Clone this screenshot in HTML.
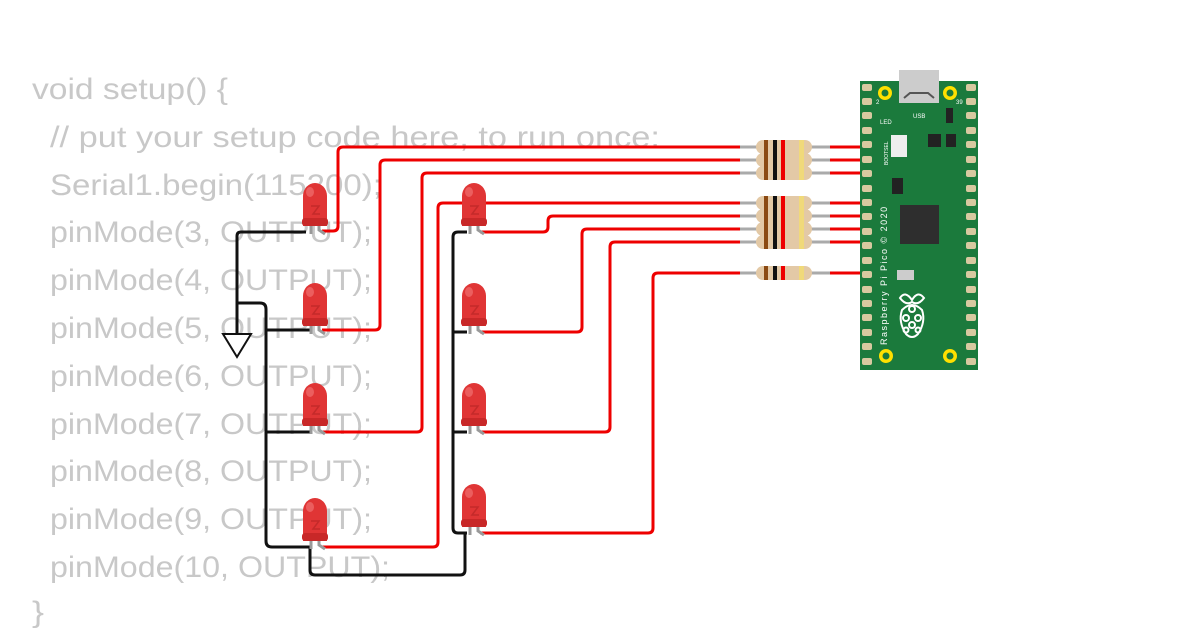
<!DOCTYPE html>
<html><head><meta charset="utf-8"><style>
html,body{margin:0;padding:0;background:#fff;}
svg{display:block;}
</style></head><body>
<svg width="1200" height="630" viewBox="0 0 1200 630" xmlns="http://www.w3.org/2000/svg">
<defs>
<g id="led">
  <line x1="-4" y1="28" x2="-4" y2="38" stroke="#999" stroke-width="3"/>
  <path d="M4 28 L4 34 L10 38" stroke="#999" stroke-width="3" fill="none"/>
  <path d="M-12 30 L-12 0 A12 13 0 0 1 12 0 L12 30 Z" fill="#e03535"/>
  <rect x="-13" y="22" width="26" height="8" rx="3" fill="#c82828"/>
  <path d="M-4 10 L4 10 L-2 18 L5 18" stroke="#c42a2a" stroke-width="1.5" fill="none"/>
  <ellipse cx="-5" cy="-4" rx="4" ry="5" fill="#f07070" opacity="0.7"/>
</g>
<g id="res">
  <line x1="0" y1="0" x2="20" y2="0" stroke="#aaa" stroke-width="3"/>
  <line x1="68" y1="0" x2="90" y2="0" stroke="#aaa" stroke-width="3"/>
  <rect x="16" y="-7" width="56" height="14" rx="7" fill="#e3c9a6"/>
  <rect x="24" y="-7" width="4" height="14" fill="#8b4a12"/>
  <rect x="33" y="-7" width="4" height="14" fill="#111"/>
  <rect x="41" y="-7" width="4" height="14" fill="#e00"/>
  <rect x="59" y="-7" width="5" height="14" fill="#f0d97a"/>
</g>
</defs>

<g font-family="Liberation Sans, sans-serif" font-size="30" fill="#c8c8c8">
<text x="32" y="99" textLength="196" lengthAdjust="spacingAndGlyphs">void setup() {</text>
<text x="50" y="147" textLength="610" lengthAdjust="spacingAndGlyphs">// put your setup code here, to run once:</text>
<text x="50" y="195" textLength="332" lengthAdjust="spacingAndGlyphs">Serial1.begin(115200);</text>
<text x="50" y="242" textLength="322" lengthAdjust="spacingAndGlyphs">pinMode(3, OUTPUT);</text>
<text x="50" y="290" textLength="322" lengthAdjust="spacingAndGlyphs">pinMode(4, OUTPUT);</text>
<text x="50" y="338" textLength="322" lengthAdjust="spacingAndGlyphs">pinMode(5, OUTPUT);</text>
<text x="50" y="386" textLength="322" lengthAdjust="spacingAndGlyphs">pinMode(6, OUTPUT);</text>
<text x="50" y="434" textLength="322" lengthAdjust="spacingAndGlyphs">pinMode(7, OUTPUT);</text>
<text x="50" y="481" textLength="322" lengthAdjust="spacingAndGlyphs">pinMode(8, OUTPUT);</text>
<text x="50" y="529" textLength="322" lengthAdjust="spacingAndGlyphs">pinMode(9, OUTPUT);</text>
<text x="50" y="577" textLength="340" lengthAdjust="spacingAndGlyphs">pinMode(10, OUTPUT);</text>
<text x="32" y="622" textLength="12" lengthAdjust="spacingAndGlyphs">}</text>
</g>

<g stroke="#111" stroke-width="3" fill="none" stroke-linejoin="round">
<path d="M306 232 L241 232 Q237 232 237 236 L237 333"/>
<path d="M237 303 L260 303 Q266 303 266 309 L266 541 Q266 547 272 547 L310 547"/>
<path d="M266 330 L310 330"/>
<path d="M266 432 L310 432"/>
<path d="M310 547 L310 570 Q310 575 315 575 L460 575 Q465 575 465 570 L465 533"/>
<path d="M467 232 L458 232 Q453 232 453 237 L453 528 Q453 533 458 533 L467 533"/>
<path d="M453 332 L467 332"/>
<path d="M453 432 L467 432"/>
</g>
<path d="M223 334 L251 334 L237 357 Z" fill="#fff" stroke="#111" stroke-width="2"/>

<g stroke="#e00" stroke-width="3" fill="none" stroke-linejoin="round">
<path d="M745 147 L343 147 Q338 147 338 152 L338 226 Q338 231 333 231 L322 231"/>
<path d="M745 160 L385 160 Q380 160 380 165 L380 325 Q380 330 375 330 L322 330"/>
<path d="M745 173 L427 173 Q422 173 422 178 L422 427 Q422 432 417 432 L322 432"/>
<path d="M745 203 L443 203 Q438 203 438 208 L438 542 Q438 547 433 547 L322 547"/>
<path d="M745 216 L553 216 Q548 216 548 221 L548 227 Q548 232 543 232 L480 232"/>
<path d="M745 229 L587 229 Q582 229 582 234 L582 327 Q582 332 577 332 L480 332"/>
<path d="M745 242 L615 242 Q610 242 610 247 L610 427 Q610 432 605 432 L480 432"/>
<path d="M745 273 L658 273 Q653 273 653 278 L653 528 Q653 533 648 533 L480 533"/>
<path d="M825 147 L866 147 M825 160 L866 160 M825 173 L866 173 M825 203 L866 203 M825 216 L866 216 M825 229 L866 229 M825 242 L866 242 M825 273 L866 273"/>
</g>

<use href="#led" x="315" y="196"/>
<use href="#led" x="315" y="296"/>
<use href="#led" x="315" y="396"/>
<use href="#led" x="315" y="511"/>
<use href="#led" x="474" y="196"/>
<use href="#led" x="474" y="296"/>
<use href="#led" x="474" y="396"/>
<use href="#led" x="474" y="497"/>

<use href="#res" x="740" y="147"/>
<use href="#res" x="740" y="160"/>
<use href="#res" x="740" y="173"/>
<use href="#res" x="740" y="203"/>
<use href="#res" x="740" y="216"/>
<use href="#res" x="740" y="229"/>
<use href="#res" x="740" y="242"/>
<use href="#res" x="740" y="273"/>

<rect x="860" y="81" width="118" height="289" fill="#1b7a3c"/>
<rect x="899" y="70" width="40" height="33" fill="#ccc"/>
<path d="M904 98 L910 93 L928 93 L934 98" stroke="#555" stroke-width="2" fill="none"/>
<g fill="#d8c9a0">
<rect x="862" y="84" width="10" height="7" rx="2"/><rect x="862" y="98" width="10" height="7" rx="2"/>
<rect x="862" y="112" width="10" height="7" rx="2"/><rect x="862" y="127" width="10" height="7" rx="2"/>
<rect x="862" y="141" width="10" height="7" rx="2"/><rect x="862" y="156" width="10" height="7" rx="2"/>
<rect x="862" y="170" width="10" height="7" rx="2"/><rect x="862" y="185" width="10" height="7" rx="2"/>
<rect x="862" y="199" width="10" height="7" rx="2"/><rect x="862" y="213" width="10" height="7" rx="2"/>
<rect x="862" y="228" width="10" height="7" rx="2"/><rect x="862" y="242" width="10" height="7" rx="2"/>
<rect x="862" y="257" width="10" height="7" rx="2"/><rect x="862" y="271" width="10" height="7" rx="2"/>
<rect x="862" y="286" width="10" height="7" rx="2"/><rect x="862" y="300" width="10" height="7" rx="2"/>
<rect x="862" y="314" width="10" height="7" rx="2"/><rect x="862" y="329" width="10" height="7" rx="2"/>
<rect x="862" y="343" width="10" height="7" rx="2"/><rect x="862" y="358" width="10" height="7" rx="2"/>
<rect x="966" y="84" width="10" height="7" rx="2"/><rect x="966" y="98" width="10" height="7" rx="2"/>
<rect x="966" y="112" width="10" height="7" rx="2"/><rect x="966" y="127" width="10" height="7" rx="2"/>
<rect x="966" y="141" width="10" height="7" rx="2"/><rect x="966" y="156" width="10" height="7" rx="2"/>
<rect x="966" y="170" width="10" height="7" rx="2"/><rect x="966" y="185" width="10" height="7" rx="2"/>
<rect x="966" y="199" width="10" height="7" rx="2"/><rect x="966" y="213" width="10" height="7" rx="2"/>
<rect x="966" y="228" width="10" height="7" rx="2"/><rect x="966" y="242" width="10" height="7" rx="2"/>
<rect x="966" y="257" width="10" height="7" rx="2"/><rect x="966" y="271" width="10" height="7" rx="2"/>
<rect x="966" y="286" width="10" height="7" rx="2"/><rect x="966" y="300" width="10" height="7" rx="2"/>
<rect x="966" y="314" width="10" height="7" rx="2"/><rect x="966" y="329" width="10" height="7" rx="2"/>
<rect x="966" y="343" width="10" height="7" rx="2"/><rect x="966" y="358" width="10" height="7" rx="2"/>
</g>
<g fill="#ffe000"><circle cx="885" cy="93" r="7"/><circle cx="950" cy="93" r="7"/><circle cx="886" cy="356" r="7"/><circle cx="950" cy="356" r="7"/></g>
<g fill="#1b7a3c"><circle cx="885" cy="93" r="3.5"/><circle cx="950" cy="93" r="3.5"/><circle cx="886" cy="356" r="3.5"/><circle cx="950" cy="356" r="3.5"/></g>
<rect x="891" y="135" width="16" height="22" fill="#eee"/>
<rect x="946" y="108" width="7" height="15" fill="#222"/>
<rect x="928" y="134" width="13" height="13" fill="#222"/><rect x="946" y="134" width="10" height="13" fill="#222"/>
<rect x="892" y="178" width="11" height="16" fill="#222"/>
<rect x="900" y="205" width="39" height="39" fill="#2e2e2e"/>
<rect x="897" y="270" width="17" height="10" fill="#ccc"/>
<g fill="none" stroke="#fff" stroke-width="2">
<path d="M900 298 Q905 290 912 300 Q918 290 924 298 Q918 306 912 302 Q906 306 900 298 Z"/>
<path d="M902 310 Q912 300 922 310 Q926 322 918 334 Q912 340 906 334 Q898 322 902 310 Z"/>
<circle cx="912" cy="309" r="3"/><circle cx="906" cy="318" r="3"/><circle cx="918" cy="318" r="3"/>
<circle cx="912" cy="325" r="3"/><circle cx="906" cy="330" r="2.5"/><circle cx="918" cy="330" r="2.5"/>
</g>
<g font-family="Liberation Sans, sans-serif" fill="#fff" font-size="6">
<text x="880" y="124">LED</text><text x="913" y="118">USB</text>
<text x="876" y="104">2</text><text x="956" y="104">39</text>
<text x="887" y="345" font-size="9" transform="rotate(-90 887 345)" letter-spacing="1.5">Raspberry Pi Pico © 2020</text>
<text x="888" y="165" font-size="5" transform="rotate(-90 888 165)">BOOTSEL</text>
</g>
</svg>
</body></html>
